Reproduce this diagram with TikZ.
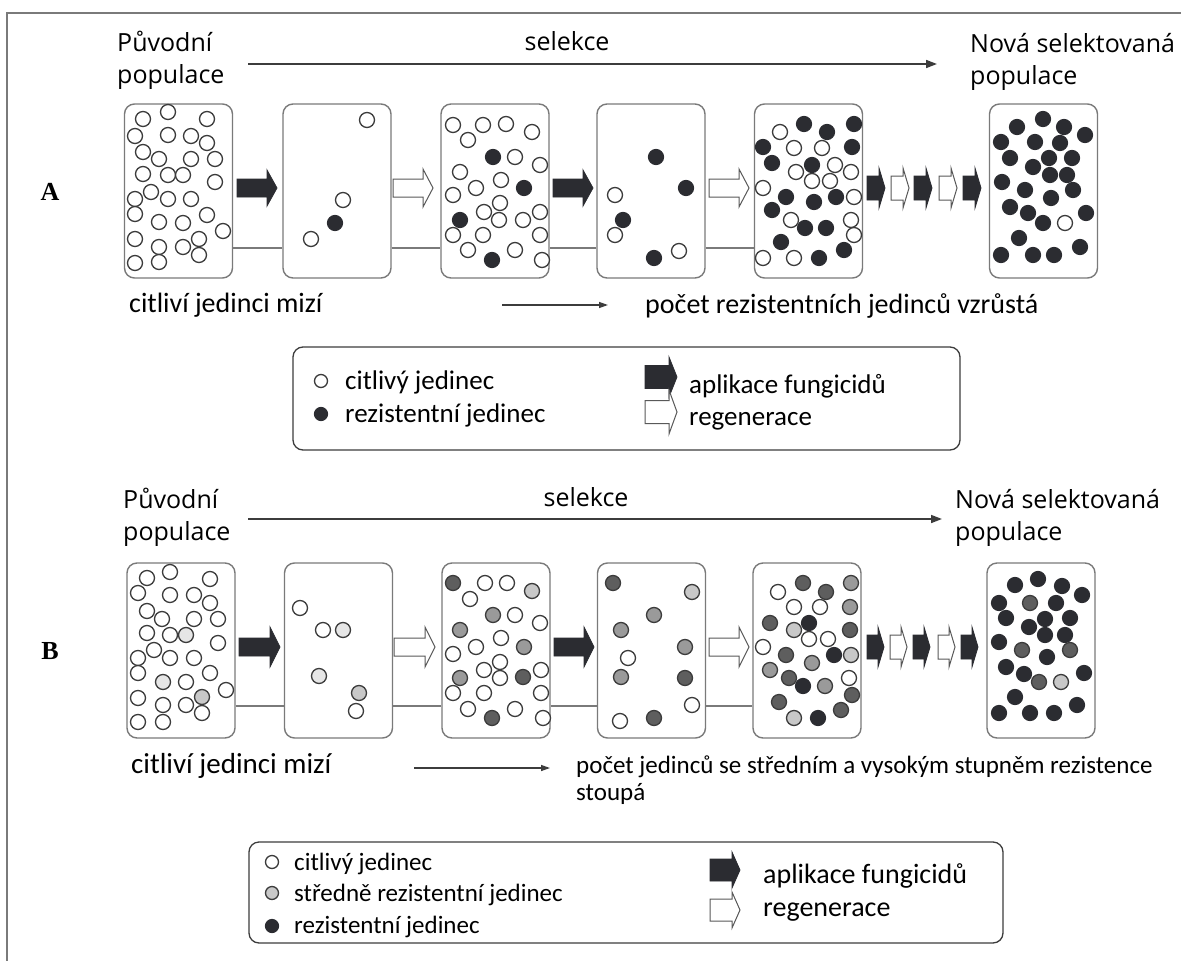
\documentclass[tikz,border=0pt]{standalone}
\usepackage{fontspec}
\setmainfont{Carlito}
\newfontfamily\headfont{Open Sans}
\newfontfamily\labfont{Liberation Serif}
\usetikzlibrary{arrows.meta}
\definecolor{cK}{HTML}{2B2C31}
\definecolor{cD}{HTML}{5E5E5E}
\definecolor{cM}{HTML}{9A9A9A}
\definecolor{cMl}{HTML}{C8C8C8}
\definecolor{cL}{HTML}{E6E6E6}
\definecolor{edge}{HTML}{3C3C3C}
\definecolor{boxc}{HTML}{7A7A7A}
\definecolor{framec}{HTML}{7A7A7A}
\newcommand\ashape[7]{\draw[#7] (#1,#2-#5) -- (#1+#3,#2-#5) -- (#1+#3,#2-#6) -- (#1+#3+#4,#2) -- (#1+#3,#2+#6) -- (#1+#3,#2+#5) -- (#1,#2+#5) -- cycle;}
\tikzset{
  popbox/.style={draw=boxc, fill=white, line width=1.4pt, rounded corners=10pt, minimum width=108pt, minimum height=174pt, inner sep=0pt},
  legbox/.style={draw=edge, fill=white, line width=1.3pt, rounded corners=10pt, inner sep=0pt},
  cw/.style={draw=edge, fill=white, line width=1.3pt},
  cf/.style={draw=edge, fill=#1, line width=1.3pt},
  ck/.style={draw=cK, fill=cK, line width=1.2pt},
  blackarr/.style={draw=cK, fill=cK, line width=0.8pt},
  whitearr/.style={draw=edge!85, fill=white, line width=1pt},
  link/.style={draw=boxc, line width=1.2pt},
  selarrow/.style={draw=edge, line width=1.6pt, -{Triangle[length=11pt,width=8pt]}},
  smallarrow/.style={draw=edge, line width=1.3pt, -{Triangle[length=9pt,width=6pt]}},
  head/.style={font=\headfont\fontsize{25}{33}\selectfont, inner sep=0pt, anchor=base west},
  txt/.style={font=\fontsize{28}{33}\selectfont, inner sep=0pt, anchor=base west},
  legtxt/.style={font=\fontsize{27}{32}\selectfont, inner sep=0pt, anchor=base west},
  lab/.style={font=\labfont\bfseries\fontsize{26}{30}\selectfont, inner sep=0pt}
}
\begin{document}
\begin{tikzpicture}[x=1pt,y=-1pt]
\useasboundingbox (0,0) rectangle (1181,961);
\fill[white] (0,0) rectangle (1181,961);
% frame
\draw[framec, line width=1.5pt] (7,961) -- (7,13) -- (1181,13);

% ================= PANEL A =================
\node[head] (hA1) at (117,51) {Původní};
\node[head] (hA2) at (117,83) {populace};
\node[head, anchor=base] (selA) at (567,50) {selekce};
\node[head] (hA3) at (970,52) {Nová selektovaná};
\node[head] (hA4) at (970,84) {populace};
\coordinate (sA1) at (248,64);
\coordinate (sA2) at (937,64);
\draw[selarrow] (sA1) -- (sA2);
\node[lab] (labA) at (50,192) {A};

\coordinate (lineA) at (0,248);
\node[popbox] (A1) at (178.5,191) {};
\node[popbox] (A2) at (337,191) {};
\node[popbox] (A3) at (495,191) {};
\node[popbox] (A4) at (651,191) {};
\node[popbox] (A5) at (808.5,191) {};
\node[popbox] (A6) at (1043.5,191) {};
\draw[link] (A1.east |- lineA) -- (A2.west |- lineA);
\draw[link] (A2.east |- lineA) -- (A3.west |- lineA);
\draw[link] (A3.east |- lineA) -- (A4.west |- lineA);
\draw[link] (A4.east |- lineA) -- (A5.west |- lineA);

\ashape{237}{188}{30}{10}{9}{18}{blackarr}
\ashape{393}{188}{30}{10}{9}{19}{whitearr}
\ashape{553}{188}{30}{10}{9}{18}{blackarr}
\ashape{709}{188}{30}{10}{9}{19}{whitearr}
\ashape{867}{188}{12}{6}{12}{20}{blackarr}
\ashape{891}{188}{12}{6}{12}{20}{whitearr}
\ashape{914}{188}{12}{6}{12}{20}{blackarr}
\ashape{939}{188}{12}{6}{12}{20}{whitearr}
\ashape{963}{188}{12}{6}{12}{20}{blackarr}

% box A1
\foreach \x/\y in {143/119,168/112,207/119,135/136,168/135,191/136,207/143,143/152,159/159,191/159,215/159,143/174,168/175,183/175,215/182,151/192,135/199,168/199,191/199,135/214,207/215,159/222,183/223,223/231,135/239,159/247,183/247,199/239,199/255,135/263,159/262}
  \draw[cw] (\x,\y) circle[radius=7.5pt];
% box A2
\foreach \x/\y in {367/120,343/200,311/239} \draw[cw] (\x,\y) circle[radius=7.5pt];
\draw[ck] (335,223) circle[radius=7.5pt];
% box A3
\foreach \x/\y in {453/125,483/125,506/124,532/132,468/140,515/157,540/165,460/172,476/188,501/180,453/195,500/203,484/212,499/220,523/220,540/212,453/235,483/235,540/235,468/250,515/250,542/260}
  \draw[cw] (\x,\y) circle[radius=7.5pt];
\foreach \x/\y in {493/157,524/188,460/220,492/260} \draw[ck] (\x,\y) circle[radius=7.5pt];
% box A4
\foreach \x/\y in {656/157,686/188,623/220,654/258} \draw[ck] (\x,\y) circle[radius=7.5pt];
\foreach \x/\y in {615/195,615/235,679/251} \draw[cw] (\x,\y) circle[radius=7.5pt];
% box A5
\foreach \x/\y in {780/132,794/148,822/148,835/165,796/172,812/181,830/181,851/172,763/188,854/197,791/220,851/220,854/235,763/258,794/258}
  \draw[cw] (\x,\y) circle[radius=7.5pt];
\foreach \x/\y in {804/124,827/132,854/124,763/147,852/147,772/163,812/165,786/197,836/197,814/202,772/210,805/228,826/228,781/242,844/250,819/258}
  \draw[ck] (\x,\y) circle[radius=7.5pt];
% box A6
\foreach \x/\y in {1043/119,1017/127,1064/127,1085/135,1001/142,1035/142,1060/143,1010/158,1049/158,1072/158,1033/167,1050/175,1067/175,1002/182,1025/190,1073/190,1051/198,1010/207,1028/213,1086/213,1043/223,1019/238,1001/255,1033/255,1054/255,1080/247}
  \draw[ck] (\x,\y) circle[radius=7.5pt];
\draw[cw] (1065,223) circle[radius=7.5pt];

\node[txt] (tA1) at (129,312) {citliví jedinci mizí};
\node[txt] (tA2) at (645,313) {počet rezistentních jedinců vzrůstá};
\coordinate (bA1) at (502,305);
\coordinate (bA2) at (608,305);
\draw[smallarrow] (bA1) -- (bA2);

% legend A
\node[legbox, minimum width=667pt, minimum height=103pt] (legA) at (626.5,398.5) {};
\draw[cw] (321,381) circle[radius=6.5pt];
\draw[ck] (321,414) circle[radius=6.5pt];
\node[legtxt] (lA1) at (345,389) {citlivý jedinec};
\node[legtxt] (lA2) at (345,422) {rezistentní jedinec};
\ashape{645}{377}{24}{8}{11.5}{20}{blackarr}
\ashape{645}{412}{24}{8}{11.5}{22}{whitearr}
\node[legtxt] (lA3) at (689,393) {aplikace fungicidů};
\node[legtxt] (lA4) at (689,425) {regenerace};

% ================= PANEL B =================
\node[head] (hB1) at (123,508) {Původní};
\node[head] (hB2) at (123,540) {populace};
\node[head, anchor=base] (selB) at (586,506) {selekce};
\node[head] (hB3) at (955,508) {Nová selektovaná};
\node[head] (hB4) at (955,540) {populace};
\coordinate (sB1) at (248,519);
\coordinate (sB2) at (942,519);
\draw[selarrow] (sB1) -- (sB2);
\node[lab] (labB) at (50,651) {B};

\coordinate (lineB) at (0,706);
\node[popbox, minimum height=175pt] (B1) at (181,650.5) {};
\node[popbox, minimum height=175pt] (B2) at (338.5,650.5) {};
\node[popbox, minimum height=175pt] (B3) at (496,650.5) {};
\node[popbox, minimum height=175pt] (B4) at (651.5,650.5) {};
\node[popbox, minimum height=175pt] (B5) at (807,650.5) {};
\node[popbox, minimum height=175pt] (B6) at (1041,650.5) {};
\draw[link] (B1.east |- lineB) -- (B2.west |- lineB);
\draw[link] (B2.east |- lineB) -- (B3.west |- lineB);
\draw[link] (B3.east |- lineB) -- (B4.west |- lineB);
\draw[link] (B4.east |- lineB) -- (B5.west |- lineB);

\ashape{239}{647}{31}{10}{9}{20}{blackarr}
\ashape{394}{647}{31}{10}{9}{20}{whitearr}
\ashape{554}{647}{30}{10}{9}{20}{blackarr}
\ashape{709}{647}{30}{10}{9}{20}{whitearr}
\ashape{867}{647}{11}{6}{12}{20}{blackarr}
\ashape{890}{647}{11}{6}{12}{20}{whitearr}
\ashape{913}{647}{11}{6}{12}{20}{blackarr}
\ashape{938}{647}{11}{6}{12}{20}{whitearr}
\ashape{961}{647}{11}{6}{12}{20}{blackarr}

% box B1
\foreach \x/\y in {147/578,170/572,210/579,138/593,170/595,194/595,210/603,147/611,162/619,194/619,218/619,147/633,170/635,218/643,154/650,138/658,170/658,194/658,138/673,210/673,186/682,226/690,138/698,163/705,186/705,202/713,138/722,163/722}
  \draw[cw] (\x,\y) circle[radius=7.5pt];
\foreach \x/\y in {186/635,163/682} \draw[cf=cL] (\x,\y) circle[radius=7.5pt];
\draw[cf=cMl] (202,697) circle[radius=7.5pt];
% box B2
\foreach \x/\y in {300/608,323/630,356/711} \draw[cw] (\x,\y) circle[radius=7.5pt];
\foreach \x/\y in {343/630,319/676} \draw[cf=cL] (\x,\y) circle[radius=7.5pt];
\draw[cf=cMl] (359,693) circle[radius=7.5pt];
% box B3
\foreach \x/\y in {485/583,507/583,470/599,515/615,540/623,476/647,501/638,453/654,500/662,484/670,500/678,541/670,453/693,484/693,541/693,468/709,515/709,543/718}
  \draw[cw] (\x,\y) circle[radius=7.5pt];
\foreach \x/\y in {453/583,523/677,492/718} \draw[cf=cD] (\x,\y) circle[radius=7.5pt];
\draw[cf=cMl] (532,591) circle[radius=7.5pt];
\foreach \x/\y in {493/615,460/630,524/647,460/678} \draw[cf=cM] (\x,\y) circle[radius=7.5pt];
% box B4
\foreach \x/\y in {613/583,685/678,654/718} \draw[cf=cD] (\x,\y) circle[radius=7.5pt];
\draw[cf=cMl] (692,592) circle[radius=7.5pt];
\foreach \x/\y in {654/615,621/630,685/647,621/677} \draw[cf=cM] (\x,\y) circle[radius=7.5pt];
\foreach \x/\y in {628/658,620/721,692/705} \draw[cw] (\x,\y) circle[radius=7.5pt];
% box B5
\foreach \x/\y in {778/592,794/607,820/607,809/639,828/639,763/647,849/678}
  \draw[cw] (\x,\y) circle[radius=7.5pt];
\foreach \x/\y in {803/583,826/592,770/623,850/630,786/655,789/678,852/695,779/702,841/710}
  \draw[cf=cD] (\x,\y) circle[radius=7.5pt];
\foreach \x/\y in {851/583,850/607,812/663,770/670,825/686}
  \draw[cf=cM] (\x,\y) circle[radius=7.5pt];
\foreach \x/\y in {794/630,851/655,794/718}
  \draw[cf=cMl] (\x,\y) circle[radius=7.5pt];
\foreach \x/\y in {809/623,834/655,803/686,818/718}
  \draw[ck] (\x,\y) circle[radius=7.5pt];
% box B6
\foreach \x/\y in {1015/585,1038/579,1062/586,1082/595,999/603,1056/603,1006/618,1045/619,1070/618,1029/627,1045/635,1065/635,999/642,1047/657,1006/667,1024/674,1084/673,1015/697,999/713,1030/713,1054/713,1077/705}
  \draw[ck] (\x,\y) circle[radius=7.5pt];
\foreach \x/\y in {1030/603,1022/650,1070/650,1039/682} \draw[cf=cD] (\x,\y) circle[radius=7.5pt];
\draw[cf=cMl] (1061,682) circle[radius=7.5pt];

\node[txt, font=\fontsize{29}{34}\selectfont] (tB1) at (131,773) {citliví jedinci mizí};
\coordinate (bB1) at (414,768);
\coordinate (bB2) at (550,768);
\draw[smallarrow] (bB1) -- (bB2);
\node[txt, font=\fontsize{25}{28}\selectfont] (tB2) at (576,773) {počet jedinců se středním a vysokým stupněm rezistence};
\node[txt, font=\fontsize{25}{28}\selectfont] (tB3) at (576,800) {stoupá};

% legend B
\node[legbox, minimum width=754pt, minimum height=101pt] (legB) at (626,892.5) {};
\draw[cw] (272,862) circle[radius=6.5pt];
\draw[cf=cMl] (272,893) circle[radius=6.5pt];
\draw[ck] (272,926) circle[radius=6.5pt];
\node[legtxt, font=\fontsize{25}{30}\selectfont] (lB1) at (294,870) {citlivý jedinec};
\node[legtxt, font=\fontsize{25}{30}\selectfont] (lB2) at (294,901) {středně rezistentní jedinec};
\node[legtxt, font=\fontsize{25}{30}\selectfont] (lB3) at (294,933) {rezistentní jedinec};
\ashape{710}{870}{22}{8}{11}{18}{blackarr}
\ashape{710}{910}{22}{8}{11}{18}{whitearr}
\node[legtxt, font=\fontsize{28}{32}\selectfont] (lB4) at (763,883) {aplikace fungicidů};
\node[legtxt, font=\fontsize{28}{32}\selectfont] (lB5) at (763,916) {regenerace};
\end{tikzpicture}
\end{document}
